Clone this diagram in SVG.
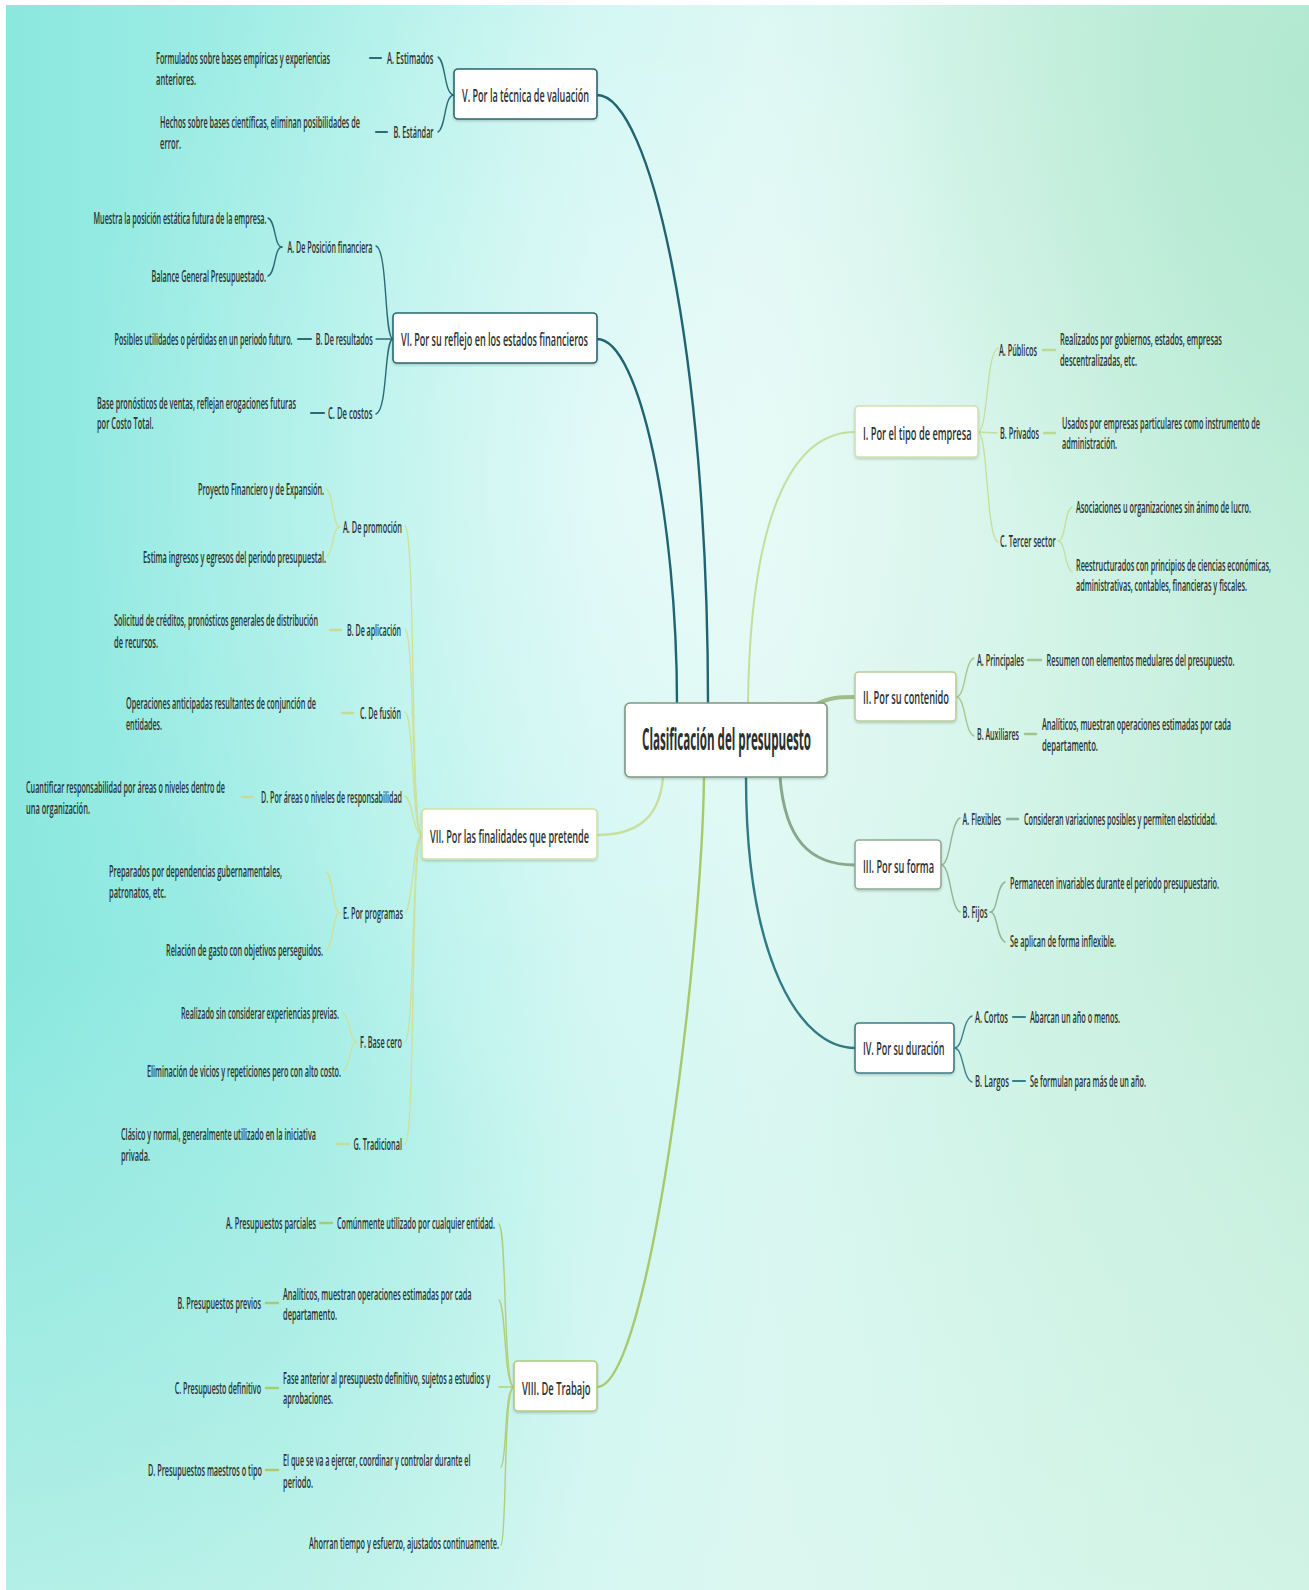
<svg xmlns="http://www.w3.org/2000/svg" width="1309" height="1590" viewBox="0 0 1309 1590">
<defs>
<linearGradient id="bgH" x1="0" y1="0" x2="1" y2="0">
<stop offset="0" stop-color="#8be8df"/>
<stop offset="0.22" stop-color="#a3eee6"/>
<stop offset="0.45" stop-color="#ccf6f2"/>
<stop offset="0.58" stop-color="#d8f7f1"/>
<stop offset="0.8" stop-color="#cdf2e4"/>
<stop offset="1" stop-color="#c2eedb"/>
</linearGradient>
<radialGradient id="glow" cx="0.5" cy="0.3" r="0.45">
<stop offset="0" stop-color="#ffffff" stop-opacity="0.45"/>
<stop offset="1" stop-color="#ffffff" stop-opacity="0"/>
</radialGradient>
<radialGradient id="mintTR" cx="1" cy="0.05" r="0.35">
<stop offset="0" stop-color="#a6e4c8" stop-opacity="0.6"/>
<stop offset="1" stop-color="#a6e4c8" stop-opacity="0"/>
</radialGradient>
<radialGradient id="cyanBL" cx="0.05" cy="0.9" r="0.4">
<stop offset="0" stop-color="#7fe4da" stop-opacity="0.6"/>
<stop offset="1" stop-color="#7fe4da" stop-opacity="0"/>
</radialGradient>
<linearGradient id="bottomR" x1="0" y1="0" x2="0" y2="1">
<stop offset="0.6" stop-color="#e0f8f0" stop-opacity="0"/>
<stop offset="1" stop-color="#e0f8f0" stop-opacity="0.5"/>
</linearGradient>
<filter id="sh" x="-10%" y="-20%" width="120%" height="150%">
<feDropShadow dx="0" dy="1.5" stdDeviation="1.2" flood-color="#000000" flood-opacity="0.18"/>
</filter>
<style>
text{font-family:"Open Sans","Liberation Sans",sans-serif;fill:#2c3333;font-weight:600}
.s{font-size:16px}
.n{font-size:18.5px}
.c{font-size:30px;font-weight:700;fill:#2a2f2f}
.box{fill:#ffffff;stroke-width:1.6;filter:url(#sh)}
.con path,.con line{fill:none;stroke-linecap:round}
.tealM{stroke:#1f6470;stroke-width:2.4}
.tealC{stroke:#2a6b76;stroke-width:1.4}
.tealD{stroke:#2a6b76;stroke-width:2.2}
.ivM{stroke:#2f7a84;stroke-width:2.4}
.ivC{stroke:#3a8088;stroke-width:1.4}
.ivD{stroke:#3a8088;stroke-width:2.2}
.gI{stroke:#c4de9c;stroke-width:2}
.gIc{stroke:#c4de9c;stroke-width:1.3}
.gID{stroke:#bcd895;stroke-width:2.4}
.gVII{stroke:#c9df9c;stroke-width:2.4}
.gVIIc{stroke:#cde19f;stroke-width:1.4}
.gVIID{stroke:#c6dc96;stroke-width:2.4}
.gVIII{stroke:#a8c86c;stroke-width:2.4}
.gVIIIc{stroke:#b2ce7a;stroke-width:1.4}
.gVIIID{stroke:#abc973;stroke-width:2.4}
.gII{stroke:#9dbd8b;stroke-width:4}
.gIIc{stroke:#a9c68e;stroke-width:1.4}
.gIID{stroke:#a3c28b;stroke-width:2.4}
.gIII{stroke:#86a98d;stroke-width:3}
.gIIIc{stroke:#93b596;stroke-width:1.4}
.gIIID{stroke:#8caf92;stroke-width:2.4}
</style>
</defs>

<rect x="0" y="0" width="1309" height="1590" fill="#ffffff"/>
<rect x="6" y="5" width="1303" height="1585" fill="url(#bgH)"/>
<rect x="6" y="5" width="1303" height="1585" fill="url(#glow)"/>
<rect x="6" y="5" width="1303" height="1585" fill="url(#mintTR)"/>
<rect x="6" y="5" width="1303" height="1585" fill="url(#cyanBL)"/>
<rect x="6" y="5" width="1303" height="1585" fill="url(#bottomR)"/>

<g id="connectors" class="con">
<path class="tealM" d="M708,704 C708,350 650,95 597,95"/>
<path class="tealM" d="M677,704 C677,520 640,339 597,339"/>
<path class="gVII" d="M663,777 C660,815 640,835 597,835"/>
<path class="gVIII" d="M704,777 C702,950 650,1387 597,1387"/>
<path class="gI" d="M748,704 C750,520 790,432 855,432"/>
<path class="gII" d="M815,705 C830,697 840,697 855,697"/>
<path class="gIII" d="M780,777 C785,840 810,865 855,865"/>
<path class="ivM" d="M746,777 C746,960 800,1048 855,1048"/>

<path class="tealC" d="M454,95 C444,95 446,61 438,57"/>
<path class="tealC" d="M454,95 C444,95 446,128 438,132"/>
<line class="tealD" x1="370" y1="58" x2="381" y2="58"/>
<line class="tealD" x1="376" y1="132" x2="387" y2="132"/>

<path class="tealC" d="M393,339 C384,339 388,250 376,246"/>
<path class="tealC" d="M393,339 L376,339"/>
<path class="tealC" d="M393,339 C384,339 388,410 376,414"/>
<path class="tealC" d="M282,247 C274,247 276,221 268,218"/>
<path class="tealC" d="M282,247 C274,247 276,273 268,276"/>
<line class="tealD" x1="298" y1="339" x2="311" y2="339"/>
<line class="tealD" x1="311" y1="413" x2="324" y2="413"/>

<path class="gVIIc" d="M422,835 C410,835 416,531 405,526"/>
<path class="gVIIc" d="M422,835 C411,835 415,634 405,629"/>
<path class="gVIIc" d="M422,835 C412,835 414,716 405,712"/>
<path class="gVIIc" d="M422,835 C413,835 413,800 405,796"/>
<path class="gVIIc" d="M422,835 C413,835 413,908 405,913"/>
<path class="gVIIc" d="M422,835 C411,835 415,1037 405,1042"/>
<path class="gVIIc" d="M422,835 C410,835 416,1139 405,1144"/>
<path class="gVIIc" d="M340,527 C332,527 334,493 326,489"/>
<path class="gVIIc" d="M340,527 C332,527 334,553 326,557"/>
<path class="gVIIc" d="M340,913 C332,913 334,876 326,872"/>
<path class="gVIIc" d="M340,913 C332,913 334,946 326,950"/>
<path class="gVIIc" d="M357,1042 C349,1042 351,1017 343,1013"/>
<path class="gVIIc" d="M357,1042 C349,1042 351,1067 343,1071"/>
<line class="gVIID" x1="330" y1="630" x2="341" y2="630"/>
<line class="gVIID" x1="342" y1="713" x2="353" y2="713"/>
<line class="gVIID" x1="242" y1="797" x2="252" y2="797"/>
<line class="gVIID" x1="337" y1="1144" x2="349" y2="1144"/>

<path class="gVIIIc" d="M514,1387 C503,1387 507,1230 499,1224"/>
<path class="gVIIIc" d="M514,1387 C504,1387 506,1305 499,1300"/>
<path class="gVIIIc" d="M514,1387 L499,1387"/>
<path class="gVIIIc" d="M514,1387 C504,1387 507,1462 501,1467"/>
<path class="gVIIIc" d="M514,1387 C503,1387 507,1539 501,1545"/>
<line class="gVIIID" x1="320" y1="1223" x2="332" y2="1223"/>
<line class="gVIIID" x1="266" y1="1303" x2="278" y2="1303"/>
<line class="gVIIID" x1="266" y1="1388" x2="278" y2="1388"/>
<line class="gVIIID" x1="266" y1="1470" x2="278" y2="1470"/>

<path class="gIc" d="M978,432 C988,432 986,352 998,348"/>
<path class="gIc" d="M978,432 L997,433"/>
<path class="gIc" d="M978,432 C988,432 986,537 998,542"/>
<path class="gIc" d="M1058,541 C1066,541 1064,511 1072,507"/>
<path class="gIc" d="M1058,541 C1066,541 1064,567 1072,572"/>
<line class="gID" x1="1043" y1="350" x2="1055" y2="350"/>
<line class="gID" x1="1044" y1="433" x2="1055" y2="433"/>

<path class="gIIc" d="M956,697 C966,697 964,662 974,658"/>
<path class="gIIc" d="M956,697 C966,697 964,732 974,736"/>
<line class="gIID" x1="1028" y1="660" x2="1041" y2="660"/>
<line class="gIID" x1="1025" y1="734" x2="1036" y2="734"/>

<path class="gIIIc" d="M941,865 C951,865 950,823 960,818"/>
<path class="gIIIc" d="M941,865 C951,865 950,907 960,912"/>
<path class="gIIIc" d="M990,912 C998,912 996,886 1005,882"/>
<path class="gIIIc" d="M990,912 C998,912 996,938 1005,942"/>
<line class="gIIID" x1="1007" y1="819" x2="1018" y2="819"/>

<path class="ivC" d="M954,1048 C964,1048 962,1020 972,1016"/>
<path class="ivC" d="M954,1048 C964,1048 962,1078 972,1082"/>
<line class="ivD" x1="1013" y1="1017" x2="1025" y2="1017"/>
<line class="ivD" x1="1013" y1="1081" x2="1025" y2="1081"/>
</g>

<g id="center">
<rect class="box" x="625" y="703" width="202" height="74" rx="5" stroke="#7f9683"/>
<text class="c" transform="translate(642,750) scale(0.37,1)" textLength="456.8" lengthAdjust="spacingAndGlyphs">Clasificación del presupuesto</text>
</g>

<g id="node-V">
<rect class="box" x="454" y="69" width="143" height="50" rx="4" stroke="#2a6670"/>
<text class="n" transform="translate(462,101.5) scale(0.44,1)" textLength="288.6" lengthAdjust="spacingAndGlyphs">V. Por la técnica de valuación</text>
</g>
<g id="node-VI">
<rect class="box" x="393" y="313" width="204" height="50" rx="4" stroke="#2a6670"/>
<text class="n" transform="translate(401,345.5) scale(0.44,1)" textLength="425" lengthAdjust="spacingAndGlyphs">VI. Por su reflejo en los estados financieros</text>
</g>
<g id="node-VII">
<rect class="box" x="422" y="809" width="175" height="50" rx="4" stroke="#cfe2a6"/>
<text class="n" transform="translate(430,842.5) scale(0.44,1)" textLength="361.4" lengthAdjust="spacingAndGlyphs">VII. Por las finalidades que pretende</text>
</g>
<g id="node-VIII">
<rect class="box" x="514" y="1361" width="83" height="50" rx="4" stroke="#afcb7c"/>
<text class="n" transform="translate(522,1394.5) scale(0.44,1)" textLength="155.7" lengthAdjust="spacingAndGlyphs">VIII. De Trabajo</text>
</g>
<g id="node-I">
<rect class="box" x="855" y="406" width="123" height="51" rx="4" stroke="#cde3ad"/>
<text class="n" transform="translate(863,439.5) scale(0.44,1)" textLength="246.6" lengthAdjust="spacingAndGlyphs">I. Por el tipo de empresa</text>
</g>
<g id="node-II">
<rect class="box" x="855" y="672" width="101" height="49" rx="4" stroke="#b9cd98"/>
<text class="n" transform="translate(863,703.5) scale(0.44,1)" textLength="195.5" lengthAdjust="spacingAndGlyphs">II. Por su contenido</text>
</g>
<g id="node-III">
<rect class="box" x="855" y="840" width="86" height="49" rx="4" stroke="#8fa995"/>
<text class="n" transform="translate(863,872.5) scale(0.44,1)" textLength="161.4" lengthAdjust="spacingAndGlyphs">III. Por su forma</text>
</g>
<g id="node-IV">
<rect class="box" x="855" y="1023" width="99" height="50" rx="4" stroke="#3c7c85"/>
<text class="n" transform="translate(863,1054.5) scale(0.44,1)" textLength="185.2" lengthAdjust="spacingAndGlyphs">IV. Por su duración</text>
</g>

<g id="v-a"><text class="s" transform="translate(387,64) scale(0.46,1)" textLength="101.1" lengthAdjust="spacingAndGlyphs">A. Estimados</text></g>
<g id="v-a-1"><text class="s" transform="translate(156,64) scale(0.46,1)" textLength="378.3" lengthAdjust="spacingAndGlyphs">Formulados sobre bases empíricas y experiencias</text><text class="s" transform="translate(156,85) scale(0.46,1)" textLength="87" lengthAdjust="spacingAndGlyphs">anteriores.</text></g>
<g id="v-b"><text class="s" transform="translate(393.5,138) scale(0.46,1)" textLength="87" lengthAdjust="spacingAndGlyphs">B. Estándar</text></g>
<g id="v-b-1"><text class="s" transform="translate(160,128) scale(0.46,1)" textLength="434.8" lengthAdjust="spacingAndGlyphs">Hechos sobre bases científicas, eliminan posibilidades de</text><text class="s" transform="translate(160,149) scale(0.46,1)" textLength="45.7" lengthAdjust="spacingAndGlyphs">error.</text></g>

<g id="vi-a"><text class="s" transform="translate(287.5,253) scale(0.46,1)" textLength="184.8" lengthAdjust="spacingAndGlyphs">A. De Posición financiera</text></g>
<g id="vi-a-1"><text class="s" transform="translate(93.5,224) scale(0.46,1)" textLength="376.1" lengthAdjust="spacingAndGlyphs">Muestra la posición estática futura de la empresa.</text></g>
<g id="vi-a-2"><text class="s" transform="translate(151.5,282) scale(0.46,1)" textLength="248.9" lengthAdjust="spacingAndGlyphs">Balance General Presupuestado.</text></g>
<g id="vi-b"><text class="s" transform="translate(315.7,345) scale(0.46,1)" textLength="123.9" lengthAdjust="spacingAndGlyphs">B. De resultados</text></g>
<g id="vi-b-1"><text class="s" transform="translate(114.5,345) scale(0.46,1)" textLength="387" lengthAdjust="spacingAndGlyphs">Posibles utilidades o pérdidas en un periodo futuro.</text></g>
<g id="vi-c"><text class="s" transform="translate(328,419) scale(0.46,1)" textLength="96.7" lengthAdjust="spacingAndGlyphs">C. De costos</text></g>
<g id="vi-c-1"><text class="s" transform="translate(97,409) scale(0.46,1)" textLength="432.6" lengthAdjust="spacingAndGlyphs">Base pronósticos de ventas, reflejan erogaciones futuras</text><text class="s" transform="translate(97,429) scale(0.46,1)" textLength="123" lengthAdjust="spacingAndGlyphs">por Costo Total.</text></g>

<g id="vii-a"><text class="s" transform="translate(343,533) scale(0.46,1)" textLength="128.3" lengthAdjust="spacingAndGlyphs">A. De promoción</text></g>
<g id="vii-a-1"><text class="s" transform="translate(198,495) scale(0.46,1)" textLength="273.9" lengthAdjust="spacingAndGlyphs">Proyecto Financiero y de Expansión.</text></g>
<g id="vii-a-2"><text class="s" transform="translate(143,563) scale(0.46,1)" textLength="397.8" lengthAdjust="spacingAndGlyphs">Estima ingresos y egresos del periodo presupuestal.</text></g>
<g id="vii-b"><text class="s" transform="translate(347,636) scale(0.46,1)" textLength="117.4" lengthAdjust="spacingAndGlyphs">B. De aplicación</text></g>
<g id="vii-b-1"><text class="s" transform="translate(114,626) scale(0.46,1)" textLength="443.5" lengthAdjust="spacingAndGlyphs">Solicitud de créditos, pronósticos generales de distribución</text><text class="s" transform="translate(114,648) scale(0.46,1)" textLength="95.7" lengthAdjust="spacingAndGlyphs">de recursos.</text></g>
<g id="vii-c"><text class="s" transform="translate(360,719) scale(0.46,1)" textLength="89.1" lengthAdjust="spacingAndGlyphs">C. De fusión</text></g>
<g id="vii-c-1"><text class="s" transform="translate(126,709) scale(0.46,1)" textLength="413" lengthAdjust="spacingAndGlyphs">Operaciones anticipadas resultantes de conjunción de</text><text class="s" transform="translate(126,730) scale(0.46,1)" textLength="78.3" lengthAdjust="spacingAndGlyphs">entidades.</text></g>
<g id="vii-d"><text class="s" transform="translate(261,803) scale(0.46,1)" textLength="306.5" lengthAdjust="spacingAndGlyphs">D. Por áreas o niveles de responsabilidad</text></g>
<g id="vii-d-1"><text class="s" transform="translate(26,793) scale(0.46,1)" textLength="432.6" lengthAdjust="spacingAndGlyphs">Cuantificar responsabilidad por áreas o niveles dentro de</text><text class="s" transform="translate(26,814) scale(0.46,1)" textLength="139.1" lengthAdjust="spacingAndGlyphs">una organización.</text></g>
<g id="vii-e"><text class="s" transform="translate(343,919) scale(0.46,1)" textLength="130.4" lengthAdjust="spacingAndGlyphs">E. Por programas</text></g>
<g id="vii-e-1"><text class="s" transform="translate(109,877) scale(0.46,1)" textLength="376.1" lengthAdjust="spacingAndGlyphs">Preparados por dependencias gubernamentales,</text><text class="s" transform="translate(109,898) scale(0.46,1)" textLength="123.9" lengthAdjust="spacingAndGlyphs">patronatos, etc.</text></g>
<g id="vii-e-2"><text class="s" transform="translate(166,956) scale(0.46,1)" textLength="341.3" lengthAdjust="spacingAndGlyphs">Relación de gasto con objetivos perseguidos.</text></g>
<g id="vii-f"><text class="s" transform="translate(360,1048) scale(0.46,1)" textLength="91.3" lengthAdjust="spacingAndGlyphs">F. Base cero</text></g>
<g id="vii-f-1"><text class="s" transform="translate(181,1019) scale(0.46,1)" textLength="343.5" lengthAdjust="spacingAndGlyphs">Realizado sin considerar experiencias previas.</text></g>
<g id="vii-f-2"><text class="s" transform="translate(147,1077) scale(0.46,1)" textLength="421.7" lengthAdjust="spacingAndGlyphs">Eliminación de vicios y repeticiones pero con alto costo.</text></g>
<g id="vii-g"><text class="s" transform="translate(353.5,1150) scale(0.46,1)" textLength="105.4" lengthAdjust="spacingAndGlyphs">G. Tradicional</text></g>
<g id="vii-g-1"><text class="s" transform="translate(121,1140) scale(0.46,1)" textLength="423.9" lengthAdjust="spacingAndGlyphs">Clásico y normal, generalmente utilizado en la iniciativa</text><text class="s" transform="translate(121,1161) scale(0.46,1)" textLength="63" lengthAdjust="spacingAndGlyphs">privada.</text></g>

<g id="viii-1"><text class="s" transform="translate(337,1229) scale(0.46,1)" textLength="343.5" lengthAdjust="spacingAndGlyphs">Comúnmente utilizado por cualquier entidad.</text></g>
<g id="viii-1-a"><text class="s" transform="translate(226,1229) scale(0.46,1)" textLength="195.7" lengthAdjust="spacingAndGlyphs">A. Presupuestos parciales</text></g>
<g id="viii-2"><text class="s" transform="translate(283,1300) scale(0.46,1)" textLength="409.8" lengthAdjust="spacingAndGlyphs">Analíticos, muestran operaciones estimadas por cada</text><text class="s" transform="translate(283,1320) scale(0.46,1)" textLength="117.4" lengthAdjust="spacingAndGlyphs">departamento.</text></g>
<g id="viii-2-b"><text class="s" transform="translate(177.6,1309) scale(0.46,1)" textLength="181.3" lengthAdjust="spacingAndGlyphs">B. Presupuestos previos</text></g>
<g id="viii-3"><text class="s" transform="translate(283,1384) scale(0.46,1)" textLength="450" lengthAdjust="spacingAndGlyphs">Fase anterior al presupuesto definitivo, sujetos a estudios y</text><text class="s" transform="translate(283,1404) scale(0.46,1)" textLength="108.7" lengthAdjust="spacingAndGlyphs">aprobaciones.</text></g>
<g id="viii-3-c"><text class="s" transform="translate(174.7,1394) scale(0.46,1)" textLength="187.6" lengthAdjust="spacingAndGlyphs">C. Presupuesto definitivo</text></g>
<g id="viii-4"><text class="s" transform="translate(283,1466) scale(0.46,1)" textLength="407.6" lengthAdjust="spacingAndGlyphs">El que se va a ejercer, coordinar y controlar durante el</text><text class="s" transform="translate(283,1488) scale(0.46,1)" textLength="65.2" lengthAdjust="spacingAndGlyphs">periodo.</text></g>
<g id="viii-4-d"><text class="s" transform="translate(148,1476) scale(0.46,1)" textLength="247.8" lengthAdjust="spacingAndGlyphs">D. Presupuestos maestros o tipo</text></g>
<g id="viii-5"><text class="s" transform="translate(309,1549) scale(0.46,1)" textLength="413" lengthAdjust="spacingAndGlyphs">Ahorran tiempo y esfuerzo, ajustados continuamente.</text></g>

<g id="i-a"><text class="s" transform="translate(999,356) scale(0.46,1)" textLength="82.6" lengthAdjust="spacingAndGlyphs">A. Públicos</text></g>
<g id="i-a-1"><text class="s" transform="translate(1060,345) scale(0.46,1)" textLength="352.2" lengthAdjust="spacingAndGlyphs">Realizados por gobiernos, estados, empresas</text><text class="s" transform="translate(1060,366) scale(0.46,1)" textLength="167.4" lengthAdjust="spacingAndGlyphs">descentralizadas, etc.</text></g>
<g id="i-b"><text class="s" transform="translate(1000,439) scale(0.46,1)" textLength="84.8" lengthAdjust="spacingAndGlyphs">B. Privados</text></g>
<g id="i-b-1"><text class="s" transform="translate(1062,429) scale(0.46,1)" textLength="430.4" lengthAdjust="spacingAndGlyphs">Usados por empresas particulares como instrumento de</text><text class="s" transform="translate(1062,449) scale(0.46,1)" textLength="119.6" lengthAdjust="spacingAndGlyphs">administración.</text></g>
<g id="i-c"><text class="s" transform="translate(1000,547) scale(0.46,1)" textLength="120.9" lengthAdjust="spacingAndGlyphs">C. Tercer sector</text></g>
<g id="i-c-1"><text class="s" transform="translate(1076,513) scale(0.46,1)" textLength="380.4" lengthAdjust="spacingAndGlyphs">Asociaciones u organizaciones sin ánimo de lucro.</text></g>
<g id="i-c-2"><text class="s" transform="translate(1076,571) scale(0.46,1)" textLength="423.9" lengthAdjust="spacingAndGlyphs">Reestructurados con principios de ciencias económicas,</text><text class="s" transform="translate(1076,591) scale(0.46,1)" textLength="371.7" lengthAdjust="spacingAndGlyphs">administrativas, contables, financieras y fiscales.</text></g>

<g id="ii-a"><text class="s" transform="translate(977,666) scale(0.46,1)" textLength="102.2" lengthAdjust="spacingAndGlyphs">A. Principales</text></g>
<g id="ii-a-1"><text class="s" transform="translate(1046.5,666) scale(0.46,1)" textLength="408.7" lengthAdjust="spacingAndGlyphs">Resumen con elementos medulares del presupuesto.</text></g>
<g id="ii-b"><text class="s" transform="translate(977,740) scale(0.46,1)" textLength="91.3" lengthAdjust="spacingAndGlyphs">B. Auxiliares</text></g>
<g id="ii-b-1"><text class="s" transform="translate(1042,730) scale(0.46,1)" textLength="410.9" lengthAdjust="spacingAndGlyphs">Analíticos, muestran operaciones estimadas por cada</text><text class="s" transform="translate(1042,751) scale(0.46,1)" textLength="121.7" lengthAdjust="spacingAndGlyphs">departamento.</text></g>

<g id="iii-a"><text class="s" transform="translate(962.6,825) scale(0.46,1)" textLength="83.7" lengthAdjust="spacingAndGlyphs">A. Flexibles</text></g>
<g id="iii-a-1"><text class="s" transform="translate(1024,825) scale(0.46,1)" textLength="419.6" lengthAdjust="spacingAndGlyphs">Consideran variaciones posibles y permiten elasticidad.</text></g>
<g id="iii-b"><text class="s" transform="translate(962.6,918) scale(0.46,1)" textLength="54.3" lengthAdjust="spacingAndGlyphs">B. Fijos</text></g>
<g id="iii-b-1"><text class="s" transform="translate(1010,889) scale(0.46,1)" textLength="454.3" lengthAdjust="spacingAndGlyphs">Permanecen invariables durante el periodo presupuestario.</text></g>
<g id="iii-b-2"><text class="s" transform="translate(1010,947) scale(0.46,1)" textLength="230.4" lengthAdjust="spacingAndGlyphs">Se aplican de forma inflexible.</text></g>

<g id="iv-a"><text class="s" transform="translate(975,1023) scale(0.46,1)" textLength="71.7" lengthAdjust="spacingAndGlyphs">A. Cortos</text></g>
<g id="iv-a-1"><text class="s" transform="translate(1030,1023) scale(0.46,1)" textLength="195.7" lengthAdjust="spacingAndGlyphs">Abarcan un año o menos.</text></g>
<g id="iv-b"><text class="s" transform="translate(975,1087) scale(0.46,1)" textLength="73.9" lengthAdjust="spacingAndGlyphs">B. Largos</text></g>
<g id="iv-b-1"><text class="s" transform="translate(1030,1087) scale(0.46,1)" textLength="252.2" lengthAdjust="spacingAndGlyphs">Se formulan para más de un año.</text></g>
</svg>
